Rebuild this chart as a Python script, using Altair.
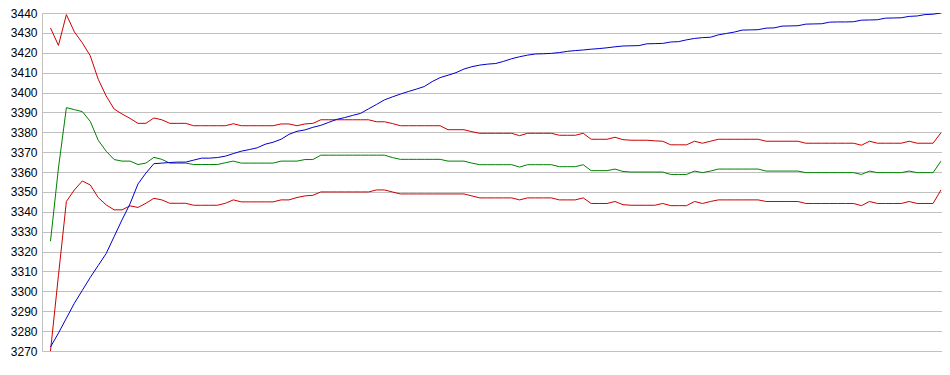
import altair as alt
import pandas as pd

red_upper = [3432.5, 3423.7, 3439.2, 3430.5, 3425, 3418.5, 3406.7, 3398.3, 3391.7, 3389.2,
             3387, 3384.5, 3384.5, 3387.2, 3386.3, 3384.5, 3384.5, 3384.5, 3383.3, 3383.3,
             3383.3, 3383.3, 3383.3, 3384.3, 3383.3, 3383.3, 3383.3, 3383.3, 3383.3, 3384.2,
             3384.2, 3383.3, 3384.2, 3384.5, 3386.3, 3386.3, 3386.3, 3386.3, 3386.3, 3386.3,
             3386.3, 3385.3, 3385.3, 3384.4, 3383.3, 3383.3, 3383.3, 3383.3, 3383.3, 3383.3,
             3381.3, 3381.3, 3381.3, 3380.3, 3379.5, 3379.5, 3379.5, 3379.5, 3379.5, 3378.3,
             3379.5, 3379.5, 3379.5, 3379.5, 3378.5, 3378.5, 3378.5, 3379.5, 3376.5, 3376.5,
             3376.5, 3377.5, 3376.3, 3376, 3376, 3376, 3375.7, 3375.5, 3373.7, 3373.7,
             3373.7, 3375.5, 3374.5, 3375.5, 3376.5, 3376.5, 3376.5, 3376.5, 3376.5, 3376.5,
             3375.5, 3375.5, 3375.5, 3375.5, 3375.5, 3374.5, 3374.5, 3374.5, 3374.5, 3374.5,
             3374.5, 3374.5, 3373.5, 3375.5, 3374.5, 3374.5, 3374.5, 3374.5, 3375.5, 3374.5,
             3374.5, 3374.5, 3379.8]

green = [3325.2, 3362, 3392.4, 3391.4, 3390.4, 3385.5, 3376, 3370.5, 3366.3, 3365.5,
         3365.5, 3363.8, 3364.5, 3367.4, 3366.4, 3364.5, 3364.5, 3364.5, 3363.8, 3363.8,
         3363.8, 3363.8, 3364.7, 3365.5, 3364.5, 3364.5, 3364.5, 3364.5, 3364.5, 3365.5,
         3365.5, 3365.5, 3366.3, 3366.3, 3368.5, 3368.5, 3368.5, 3368.5, 3368.5, 3368.5,
         3368.5, 3368.5, 3368.5, 3367.3, 3366.4, 3366.4, 3366.4, 3366.4, 3366.4, 3366.4,
         3365.5, 3365.5, 3365.5, 3364.5, 3363.7, 3363.7, 3363.7, 3363.7, 3363.7, 3362.5,
         3363.7, 3363.7, 3363.7, 3363.7, 3362.7, 3362.7, 3362.7, 3363.7, 3360.7, 3360.7,
         3360.7, 3361.5, 3360.3, 3360, 3360, 3360, 3360, 3360, 3358.8, 3358.8,
         3358.8, 3360.5, 3359.7, 3360.5, 3361.5, 3361.5, 3361.5, 3361.5, 3361.5, 3361.5,
         3360.5, 3360.5, 3360.5, 3360.5, 3360.5, 3359.7, 3359.7, 3359.7, 3359.7, 3359.7,
         3359.7, 3359.7, 3358.8, 3360.5, 3359.7, 3359.7, 3359.7, 3359.7, 3360.5, 3359.7,
         3359.7, 3359.7, 3365.5]

red_lower = [3270, 3308, 3345.2, 3351, 3355.5, 3353.5, 3347.2, 3343.5, 3341, 3341,
             3343, 3342.2, 3344.3, 3346.8, 3346, 3344.3, 3344.3, 3344.3, 3343.3, 3343.3,
             3343.3, 3343.3, 3344.3, 3346, 3345, 3345, 3345, 3345, 3345, 3346,
             3346, 3347.2, 3348, 3348.3, 3350, 3350, 3350, 3350, 3350, 3350,
             3350, 3351, 3351, 3350, 3349, 3349, 3349, 3349, 3349, 3349,
             3349, 3349, 3349, 3348, 3347, 3347, 3347, 3347, 3347, 3346,
             3347, 3347, 3347, 3347, 3346, 3346, 3346, 3347, 3344.2, 3344.2,
             3344.2, 3345.2, 3343.6, 3343.3, 3343.3, 3343.3, 3343.3, 3344.2, 3343.1, 3343.1,
             3343.1, 3345.2, 3344.2, 3345.2, 3346, 3346, 3346, 3346, 3346, 3346,
             3345.2, 3345.2, 3345.2, 3345.2, 3345.2, 3344.2, 3344.2, 3344.2, 3344.2, 3344.2,
             3344.2, 3344.2, 3343.1, 3345.2, 3344.2, 3344.2, 3344.2, 3344.2, 3345.2, 3344.2,
             3344.2, 3344.2, 3351]

blue = [3272, 3279, 3286.5, 3294, 3300.5, 3307, 3313, 3319, 3327.5, 3336,
        3344, 3354, 3359.5, 3364.2, 3364.5, 3364.8, 3365, 3365, 3366, 3367,
        3367, 3367.3, 3368, 3369.3, 3370.5, 3371.3, 3372.2, 3374, 3375, 3376.5,
        3379, 3380.5, 3381.2, 3382.5, 3383.5, 3385, 3386.5, 3387.4, 3388.5, 3389.5,
        3391.8, 3394, 3396.3, 3397.8, 3399.2, 3400.5, 3401.7, 3403, 3405.5, 3407.5,
        3408.7, 3410, 3411.8, 3413, 3413.8, 3414.3, 3414.6, 3415.7, 3417, 3418,
        3418.8, 3419.4, 3419.5, 3419.7, 3420.1, 3420.7, 3421.1, 3421.4, 3421.8, 3422.1,
        3422.5, 3423, 3423.4, 3423.5, 3423.6, 3424.5, 3424.6, 3424.7, 3425.4, 3425.6,
        3426.5, 3427.2, 3427.6, 3427.8, 3429, 3429.7, 3430.4, 3431.4, 3431.5, 3431.6,
        3432.4, 3432.5, 3433.4, 3433.5, 3433.6, 3434.4, 3434.5, 3434.6, 3435.4, 3435.5,
        3435.5, 3435.6, 3436.4, 3436.5, 3436.6, 3437.4, 3437.5, 3437.6, 3438.3, 3438.5,
        3439.2, 3439.4, 3440]

series_names = ["red_upper", "green", "red_lower", "blue"]
series_colors = ["#cc0000", "#008000", "#cc0000", "#0000cc"]
y_ticks = list(range(3270, 3441, 10))

rows = []
for name, vals in zip(series_names, [red_upper, green, red_lower, blue]):
    for i, v in enumerate(vals):
        rows.append({"series": name, "i": i, "value": v})
df = pd.DataFrame(rows)

chart = alt.Chart(df).mark_line(strokeWidth=1, clip=True).encode(
    x=alt.X("i:Q", axis=None,
            scale=alt.Scale(domain=[-1.069, 112.126], nice=False, zero=False)),
    y=alt.Y("value:Q",
            scale=alt.Scale(domain=[3270, 3440], nice=False, zero=False),
            axis=alt.Axis(values=y_ticks, format="d", title=None, grid=True,
                          gridColor="#c0c0c0", gridWidth=1, domain=True,
                          domainColor="#c0c0c0", ticks=False,
                          labelFont="Liberation Sans", labelFontSize=12,
                          labelColor="#000000", labelPadding=5)),
    color=alt.Color("series:N", legend=None,
                    scale=alt.Scale(domain=series_names, range=series_colors)),
    detail="series:N",
).properties(
    width=900,
    height=338,
    autosize=alt.AutoSizeParams(type="none"),
    padding={"left": 34, "top": 5, "right": 0, "bottom": 10},
).configure_view(strokeWidth=0)

chart.save("out.html", embed_options={"renderer": "svg", "actions": False})
